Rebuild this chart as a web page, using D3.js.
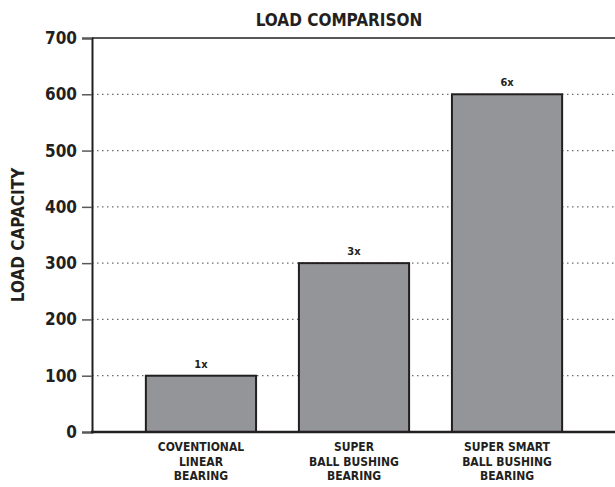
<!DOCTYPE html>
<html>
<head>
<meta charset="utf-8">
<script src="https://cdn.jsdelivr.net/npm/d3@7"></script>
<style>
  body { margin: 0; background: #fff; }
  svg text { font-family: "Liberation Sans Narrow", "DejaVu Sans Condensed", sans-serif; font-weight: bold; fill: #231f20; }
</style>
</head>
<body>
<svg id="chart"></svg>
<script>
// data
const categories = [
    ["COVENTIONAL", "LINEAR", "BEARING"],
    ["SUPER", "BALL BUSHING", "BEARING"],
    ["SUPER SMART", "BALL BUSHING", "BEARING"]
];
const loads = [100, 300, 600];
const multipliers = ["1x", "3x", "6x"];
const yTicks = [0, 100, 200, 300, 400, 500, 600, 700];

const width = 615, height = 487;
const margin = { top: 38, right: -1, bottom: 55, left: 92 };

const svg = d3.select("#chart")
    .attr("width", width)
    .attr("height", height);

const x = d3.scaleBand()
    .domain(d3.range(loads.length))
    .range([margin.left, width - margin.right])
    .paddingInner(0.28)
    .paddingOuter(0.352);

const y = d3.scaleLinear()
    .domain([0, 700])
    .range([height - margin.bottom, margin.top]);

// dotted grid
svg.append("g")
    .selectAll("line")
    .data(yTicks.filter(d => d > 0 && d < 700))
    .join("line")
    .attr("x1", margin.left)
    .attr("x2", width)
    .attr("y1", d => y(d))
    .attr("y2", d => y(d))
    .attr("stroke", "#6d6e71")
    .attr("stroke-width", 1.2)
    .attr("stroke-dasharray", "1.5,3.5");

// top frame line
svg.append("line")
    .attr("x1", margin.left).attr("x2", width)
    .attr("y1", y(700)).attr("y2", y(700))
    .attr("stroke", "#231f20").attr("stroke-width", 1.5);

// bars
svg.append("g")
    .selectAll("rect")
    .data(loads)
    .join("rect")
    .attr("x", (d, i) => x(i))
    .attr("y", d => y(d))
    .attr("width", x.bandwidth())
    .attr("height", d => y(0) - y(d))
    .attr("fill", "#939598")
    .attr("stroke", "#231f20")
    .attr("stroke-width", 2);

// value labels
svg.append("g")
    .selectAll("text")
    .data(loads)
    .join("text")
    .attr("x", (d, i) => x(i) + x.bandwidth() / 2)
    .attr("y", d => y(d) - 8)
    .attr("text-anchor", "middle")
    .attr("font-size", 11)
    .text((d, i) => multipliers[i]);

// y axis
const yAxis = svg.append("g")
    .attr("transform", `translate(${margin.left},0)`)
    .call(d3.axisLeft(y).tickValues(yTicks).tickSize(10).tickPadding(5));
yAxis.select(".domain").attr("stroke", "#231f20").attr("stroke-width", 2);
yAxis.selectAll(".tick line").attr("stroke", "#58595b").attr("stroke-width", 1.5);
yAxis.selectAll(".tick text")
    .attr("font-size", 17)
    .attr("font-family", "'Liberation Sans Narrow', 'DejaVu Sans Condensed', sans-serif")
    .attr("font-weight", "bold")
    .attr("fill", "#231f20");

// bottom axis line
svg.append("line")
    .attr("x1", margin.left - 1).attr("x2", width)
    .attr("y1", y(0)).attr("y2", y(0))
    .attr("stroke", "#231f20").attr("stroke-width", 2.5);

// category labels
const cat = svg.append("g")
    .selectAll("text")
    .data(categories)
    .join("text")
    .attr("text-anchor", "middle")
    .attr("font-size", 12)
    .attr("x", (d, i) => x(i) + x.bandwidth() / 2)
    .attr("y", y(0) + 19);
cat.selectAll("tspan")
    .data(d => d)
    .join("tspan")
    .attr("x", function () { return d3.select(this.parentNode).attr("x"); })
    .attr("dy", (d, i) => i === 0 ? 0 : 14.5)
    .text(d => d);

// title
svg.append("text")
    .attr("x", 339)
    .attr("y", 26)
    .attr("text-anchor", "middle")
    .attr("font-size", 17)
    .text("LOAD COMPARISON");

// y title
svg.append("text")
    .attr("transform", `translate(24,${(y(0) + y(700)) / 2}) rotate(-90)`)
    .attr("text-anchor", "middle")
    .attr("font-size", 17)
    .text("LOAD CAPACITY");
</script>
</body>
</html>
